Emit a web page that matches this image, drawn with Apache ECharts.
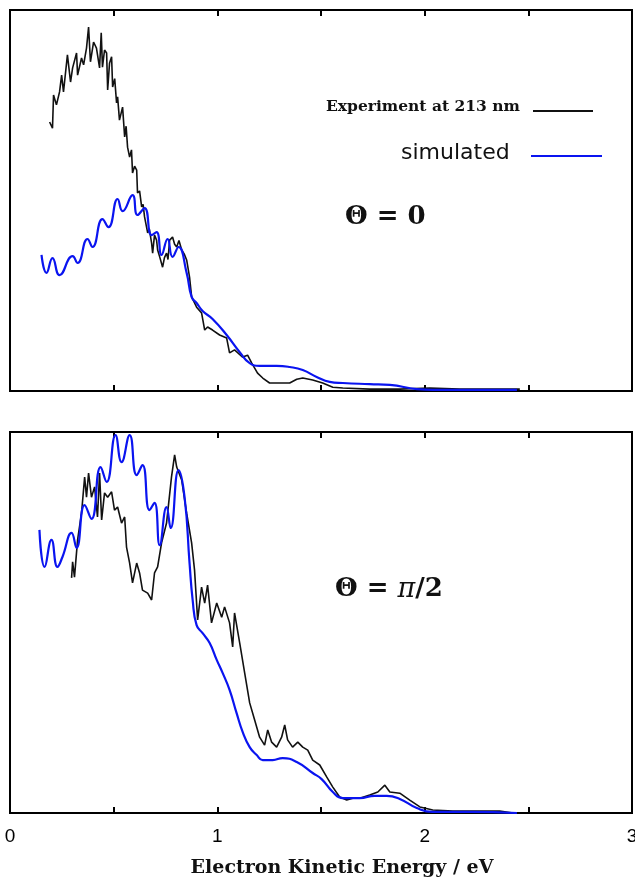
<!DOCTYPE html>
<html>
<head>
<meta charset="utf-8">
<script src="https://cdn.jsdelivr.net/npm/echarts@6/dist/echarts.min.js"></script>
<style>
html,body{margin:0;padding:0;background:#fff;}
#chart{width:635px;height:880px;}
</style>
</head>
<body>
<div id="chart"></div>
<script>
// x: electron kinetic energy (eV); y: intensity (arb. units, 0-100)
var xTicks = [0, 1, 2, 3];
var topExperiment = [
[0.191,70.6],[0.205,69.0],[0.210,77.7],[0.224,75.1],[0.239,78.5],[0.249,82.9],[0.258,78.5],[0.277,88.2],
[0.292,81.1],[0.302,84.8],[0.321,88.7],[0.326,82.9],[0.345,87.4],[0.355,85.6],[0.369,90.0],[0.379,95.5],
[0.388,86.4],[0.403,91.6],[0.417,90.0],[0.432,84.8],[0.440,94.0],[0.446,85.0],[0.456,89.5],[0.466,88.7],
[0.471,79.0],[0.480,86.0],[0.490,87.7],[0.495,79.8],[0.505,82.0],[0.514,75.6],[0.519,77.2],[0.528,71.1],
[0.543,74.5],[0.553,66.7],[0.560,69.5],[0.567,64.0],[0.577,61.4],[0.586,63.3],[0.591,57.2],[0.601,59.0],
[0.611,58.0],[0.615,52.0],[0.625,52.5],[0.635,48.3],[0.642,49.0],[0.649,45.7],[0.655,46.0],[0.664,41.5],
[0.672,42.5],[0.683,38.8],[0.688,36.2],[0.697,40.9],[0.707,39.6],[0.712,37.0],[0.722,35.2],[0.736,32.5],
[0.745,35.0],[0.755,36.2],[0.762,34.5],[0.770,39.6],[0.784,40.4],[0.794,38.5],[0.804,37.8],[0.815,39.5],
[0.828,37.0],[0.840,36.0],[0.852,34.4],[0.866,29.9],[0.876,24.7],
[0.900,22.0],[0.924,20.5],[0.939,16.0],[0.953,16.8],[0.977,16.0],[1.011,14.7],[1.045,13.9],[1.059,10.0],
[1.083,10.8],[1.122,8.9],[1.146,9.4],[1.166,7.3],[1.194,4.7],[1.219,3.4],[1.252,2.1],[1.301,2.1],
[1.349,2.1],[1.383,3.1],[1.412,3.4],[1.460,2.9],[1.508,2.1],[1.557,1.0],[1.605,0.8],[1.735,0.5],
[1.880,0.5],[2.025,0.8],[2.169,0.5],[2.314,0.5],[2.459,0.5]
];
var topSimulated = [
[0.152,35.7],[0.176,31.0],[0.205,34.9],[0.239,30.4],[0.302,35.4],[0.326,33.6],[0.374,39.9],[0.398,37.8],
[0.446,45.1],[0.475,43.0],[0.519,50.4],[0.543,47.2],[0.591,51.4],[0.615,46.2],[0.649,48.0],[0.683,40.9],
[0.707,41.7],[0.731,35.7],[0.760,39.9],[0.784,35.2],[0.813,37.8],[0.852,31.0],[0.876,24.7],[0.900,23.1],
[0.929,21.0],[0.977,18.9],[1.045,14.7],[1.108,10.2],[1.156,7.3],[1.204,6.6],[1.286,6.6],[1.349,6.3],
[1.412,5.5],[1.479,3.7],[1.542,2.4],[1.605,2.1],[1.735,1.8],[1.832,1.6],[1.962,0.5],[2.039,0.3],[2.445,0.3]
];
var bottomExperiment = [
[0.297,61.7],[0.302,65.9],[0.311,61.9],[0.326,71.7],[0.345,78.7],[0.360,88.2],[0.369,82.9],[0.379,89.2],
[0.393,82.9],[0.408,85.6],[0.422,77.7],[0.432,89.2],[0.442,76.9],[0.456,84.0],[0.471,82.9],[0.490,84.3],
[0.504,79.5],[0.519,80.3],[0.538,76.1],[0.553,77.7],[0.562,69.8],[0.577,65.6],[0.591,60.4],[0.611,65.6],
[0.625,63.0],[0.639,58.5],[0.664,57.7],[0.683,55.9],[0.697,63.0],[0.712,64.6],[0.731,70.9],[0.755,76.1],
[0.779,88.2],[0.794,94.0],[0.804,90.8],[0.828,87.4],[0.852,78.7],[0.876,70.9],[0.890,63.8],[0.905,50.7],
[0.924,59.3],[0.939,55.1],[0.953,59.8],[0.972,49.9],[0.997,55.1],[1.021,51.4],[1.035,54.1],[1.059,49.9],
[1.074,43.6],[1.083,52.5],[1.108,44.6],[1.132,36.7],[1.156,28.9],[1.180,24.4],[1.204,19.9],[1.228,17.8],
[1.243,21.8],[1.262,18.6],[1.286,17.3],[1.310,19.9],[1.325,23.1],[1.339,19.2],[1.363,17.3],[1.388,18.6],
[1.412,17.3],[1.436,16.5],[1.460,13.9],[1.494,12.6],[1.528,9.4],[1.557,6.8],[1.590,4.2],[1.624,3.4],
[1.653,3.9],[1.687,3.9],[1.735,4.7],[1.774,5.5],[1.808,7.3],[1.832,5.5],[1.880,5.2],[1.928,3.4],
[1.977,1.6],[2.039,0.8],[2.136,0.5],[2.232,0.5],[2.362,0.5],[2.425,0.0]
];
var bottomSimulated = [
[0.142,74.3],[0.167,64.6],[0.200,71.7],[0.229,64.6],[0.253,67.2],[0.297,73.5],[0.321,69.6],[0.360,80.8],
[0.393,77.2],[0.437,90.8],[0.466,86.9],[0.509,99.2],[0.538,92.1],[0.577,99.2],[0.611,88.7],[0.639,91.3],
[0.673,79.5],[0.697,81.4],[0.722,70.3],[0.755,80.3],[0.775,74.8],[0.813,90.0],[0.842,82.9],[0.866,65.6],
[0.881,55.9],[0.900,49.3],[0.929,47.2],[0.963,44.6],[0.997,40.2],[1.026,36.7],[1.059,32.3],[1.093,26.2],
[1.122,21.3],[1.156,17.3],[1.190,15.2],[1.219,13.9],[1.267,13.9],[1.315,14.4],[1.383,13.4],[1.460,10.5],
[1.503,8.9],[1.557,5.5],[1.605,3.9],[1.687,3.9],[1.759,4.5],[1.817,4.5],[1.880,3.7],[1.962,1.3],
[2.039,0.3],[2.218,0.3],[2.445,0.0]
];
var xAxisTitle = 'Electron Kinetic Energy / eV';

var chart = echarts.init(document.getElementById('chart'), null, {renderer:'canvas'});
var serif = '"DejaVu Serif","Liberation Serif",serif';
var sans = '"Liberation Sans","DejaVu Sans",sans-serif';
var sans2 = '"DejaVu Sans","Liberation Sans",sans-serif';

function xAx(grid, pos, labels) {
  return {
    type:'value', gridIndex:grid, position:pos, min:0, max:3, interval:0.5,
    axisLine:{show:true, onZero:false, lineStyle:{color:'#000', width:2}},
    axisTick:{show:true, inside:true, length:6, lineStyle:{color:'#000', width:2}},
    splitLine:{show:false},
    axisLabel:{show:labels, margin:14, color:'#000', fontFamily:sans, fontSize:19,
      formatter:function(v){ return xTicks.indexOf(v) >= 0 ? String(v) : ''; }}
  };
}
function yAx(grid) {
  return {type:'value', gridIndex:grid, min:0, max:100,
    axisLine:{show:false}, axisTick:{show:false}, axisLabel:{show:false}, splitLine:{show:false}};
}
function line(data, xi, yi, color, w, smooth) {
  return {type:'line', xAxisIndex:xi, yAxisIndex:yi, data:data, showSymbol:false, smooth:smooth,
    lineStyle:{color:color, width:w}, z: smooth ? 3 : 2, animation:false};
}

chart.setOption({
  animation:false,
  backgroundColor:'#fff',
  grid:[
    {left:10, right:3, top:10, height:381, show:true, borderColor:'#000', borderWidth:2, backgroundColor:'transparent', containLabel:false, outerBoundsMode:'none'},
    {left:10, right:3, top:432, height:381, show:true, borderColor:'#000', borderWidth:2, backgroundColor:'transparent', containLabel:false, outerBoundsMode:'none'}
  ],
  xAxis:[ xAx(0,'bottom',false), xAx(0,'top',false), xAx(1,'bottom',true), xAx(1,'top',false) ],
  yAxis:[ yAx(0), yAx(1) ],
  series:[
    line(topExperiment, 0, 0, '#111', 1.6, false),
    line(topSimulated, 0, 0, '#0a14f0', 2.2, 0.5),
    line(bottomExperiment, 2, 1, '#111', 1.6, false),
    line(bottomSimulated, 2, 1, '#0a14f0', 2.2, 0.5)
  ],
  graphic:[
    {type:'text', x:342, y:868, style:{text:xAxisTitle, font:'bold 19px '+serif, fill:'#111', align:'center', verticalAlign:'middle'}},
    {type:'text', left:326, top:99, style:{text:'Experiment at 213 nm', font:'bold 15.5px '+serif, fill:'#111'}},
    {type:'line', shape:{x1:533, y1:111, x2:593, y2:111}, style:{stroke:'#111', lineWidth:2}},
    {type:'text', left:401, top:142, style:{text:'simulated', font:'22px '+sans2, fill:'#111'}},
    {type:'line', shape:{x1:531, y1:156, x2:602, y2:156}, style:{stroke:'#0a14f0', lineWidth:1.8}},
    {type:'text', left:345, top:204, style:{rich:{
        a:{fontFamily:serif, fontSize:26, fontWeight:'bold', fill:'#111'}},
        text:'{a|Θ = 0}'}},
    {type:'text', left:335, top:576, style:{rich:{
        a:{fontFamily:serif, fontSize:26, fontWeight:'bold', fill:'#111'},
        p:{fontFamily:serif, fontSize:27, fontStyle:'italic', fill:'#111'}},
        text:'{a|Θ = }{p|π}{a|/2}'}}
  ]
});
</script>
</body>
</html>
